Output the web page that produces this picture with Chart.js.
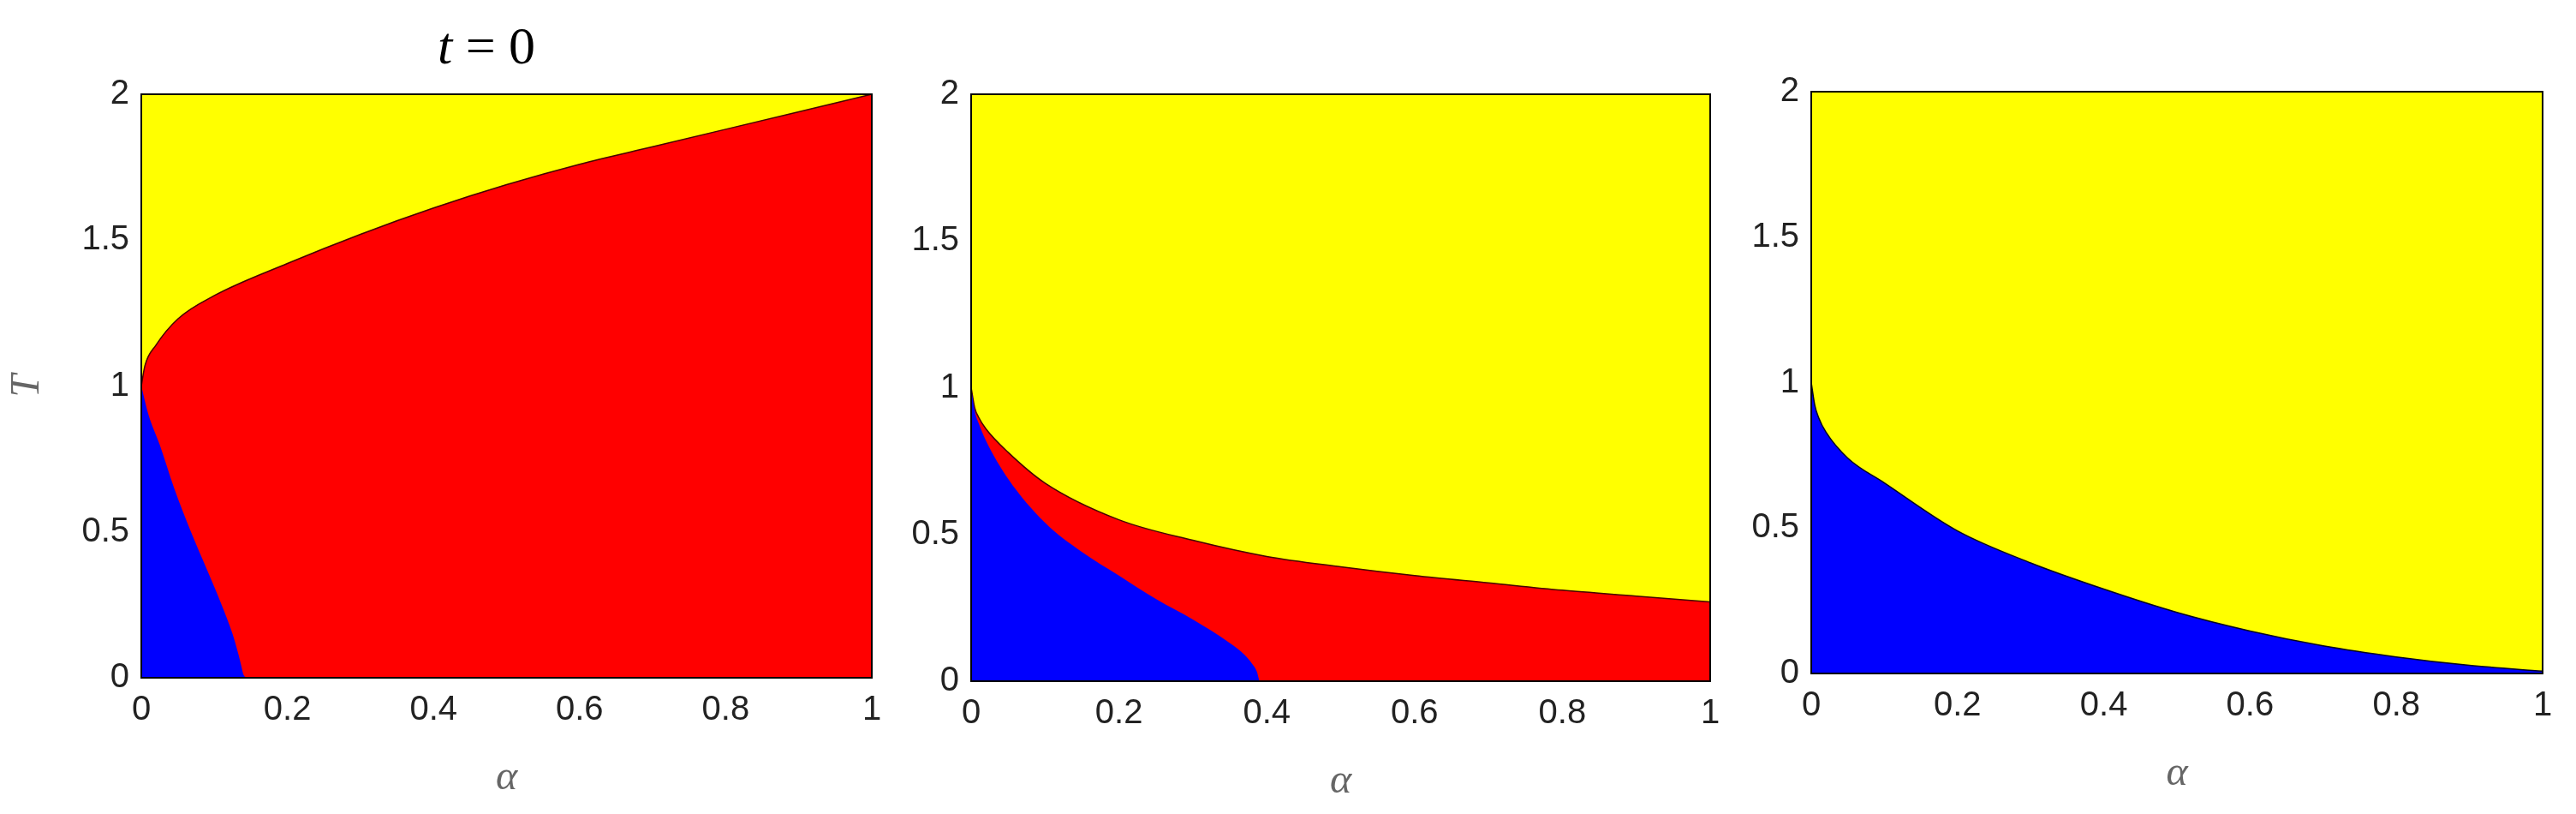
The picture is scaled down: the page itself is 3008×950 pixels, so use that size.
<!DOCTYPE html>
<html><head><meta charset="utf-8">
<script src="https://cdn.jsdelivr.net/npm/chart.js@4"></script>
<style>body{margin:0;background:#fff;width:3008px;height:950px;position:relative;overflow:hidden}canvas{position:absolute}</style>
</head><body>
<canvas id="c1"></canvas><canvas id="c2"></canvas><canvas id="c3"></canvas>
<script>
const xTicks=[0,0.2,0.4,0.6,0.8,1];
const yTicks=[0,0.5,1,1.5,2];
// Panel 1 (t = 0)
const p1UpperA=[0,0.005,0.02,0.05,0.1,0.2,0.3,0.4,0.5,0.6,0.7,0.8,0.9,1];
const p1UpperT=[1,1.07,1.14,1.23,1.31,1.42,1.52,1.61,1.69,1.76,1.82,1.88,1.94,2];
const p1BlueA=[0,0.01,0.025,0.045,0.068,0.09,0.11,0.125,0.133,0.137,0.14,0.145];
const p1BlueT=[1,0.9,0.8,0.65,0.5,0.37,0.25,0.15,0.08,0.04,0.01,0];
// Panel 2
const p2UpperA=[0,0.005,0.01,0.02,0.05,0.1,0.2,0.3,0.4,0.5,0.6,0.7,0.8,0.9,1];
const p2UpperT=[1,0.93,0.9,0.86,0.78,0.675,0.55,0.48,0.425,0.39,0.36,0.335,0.31,0.29,0.27];
const p2BlueA=[0,0.005,0.01,0.02,0.05,0.1,0.15,0.2,0.25,0.3,0.35,0.37,0.38,0.387,0.389,0.39];
const p2BlueT=[1,0.92,0.88,0.82,0.69,0.54,0.44,0.36,0.28,0.21,0.13,0.09,0.06,0.03,0.01,0];
// Panel 3
const p3BlueA=[0,0.005,0.01,0.02,0.05,0.1,0.2,0.3,0.4,0.5,0.6,0.7,0.8,0.9,1];
const p3BlueT=[1,0.92,0.88,0.83,0.74,0.655,0.49,0.38,0.29,0.21,0.146,0.095,0.057,0.028,0.008];
const topA=[0,1], topT=[2,2];

const YEL='#ffff00', RED='#ff0000', BLU='#0000ff';
const pts=(a,t)=>a.map((v,i)=>({x:v,y:t[i]}));
function ds(a,t,col,edge){return{data:pts(a,t),backgroundColor:col,borderColor:edge||col,borderWidth:edge?1.5:0,fill:'origin',pointRadius:0,cubicInterpolationMode:'monotone'};}

const framePlugin={id:'frame',afterDraw(c){const a=c.chartArea,x=c.ctx;x.save();x.strokeStyle='#000';x.lineWidth=2;x.strokeRect(a.left,a.top,a.right-a.left,a.bottom-a.top);x.restore();}};

function make(id,left,top,yW,plotW,plotH,datasets,yTitle,extra){
  const cv=document.getElementById(id);
  const W=yW+plotW+30,H=top+plotH+150;
  cv.style.left=left+'px';cv.style.top='0px';cv.width=W;cv.height=H;cv.style.width=W+'px';cv.style.height=H+'px';
  const tickFont={family:'Liberation Sans, Arial',size:40};
  return new Chart(cv,{type:'line',data:{datasets},plugins:[framePlugin].concat(extra?[extra]:[]),
    options:{responsive:false,animation:false,devicePixelRatio:1,
      layout:{padding:{top:top,right:30,left:0,bottom:0}},
      plugins:{legend:{display:false},tooltip:{enabled:false}},
      scales:{
        x:{type:'linear',min:0,max:1,afterBuildTicks:s=>{s.ticks=xTicks.map(v=>({value:v}));},
          grid:{display:false,drawTicks:false},border:{display:false},
          ticks:{font:tickFont,color:'#222',padding:14,maxRotation:0,callback:v=>String(v)},
          title:{display:true,text:'α',font:{family:'Liberation Serif',size:48,style:'italic'},color:'#666',padding:{top:8}},
          afterFit:s=>{s.height=150;}},
        y:{type:'linear',min:0,max:2,afterBuildTicks:s=>{s.ticks=yTicks.map(v=>({value:v}));},
          grid:{display:false,drawTicks:false},border:{display:false},
          ticks:{font:tickFont,color:'#222',padding:14,callback:v=>String(v)},
          title:{display:!!yTitle,text:yTitle||'',font:{family:'Liberation Serif',size:48,style:'italic'},color:'#666',padding:{bottom:10}},
          afterFit:s=>{s.width=yW;}}
      }}});
}
const titlePlugin={id:'ttl',afterDraw(c){const x=c.ctx;x.save();x.fillStyle='#000';x.textBaseline='middle';
  x.font='italic 62px Liberation Serif';const w1=x.measureText('t').width;x.font='62px Liberation Serif';const w2=x.measureText(' = 0').width;
  const cx=568,s=cx-(w1+w2)/2;x.font='italic 62px Liberation Serif';x.fillText('t',s,58);x.font='62px Liberation Serif';x.fillText(' = 0',s+w1,58);x.restore();}};

make('c1',0,110,165,853,681,[ds(p1BlueA,p1BlueT,BLU),ds(p1UpperA,p1UpperT,RED,'#400'),ds(topA,topT,YEL)],'T',titlePlugin);
make('c2',1014,110,120,863,685,[ds(p2BlueA,p2BlueT,BLU),ds(p2UpperA,p2UpperT,RED,'#400'),ds(topA,topT,YEL)],null);
make('c3',1995,107,120,854,679,[ds(p3BlueA,p3BlueT,BLU,'#002'),ds(topA,topT,YEL)],null);
</script></body></html>
